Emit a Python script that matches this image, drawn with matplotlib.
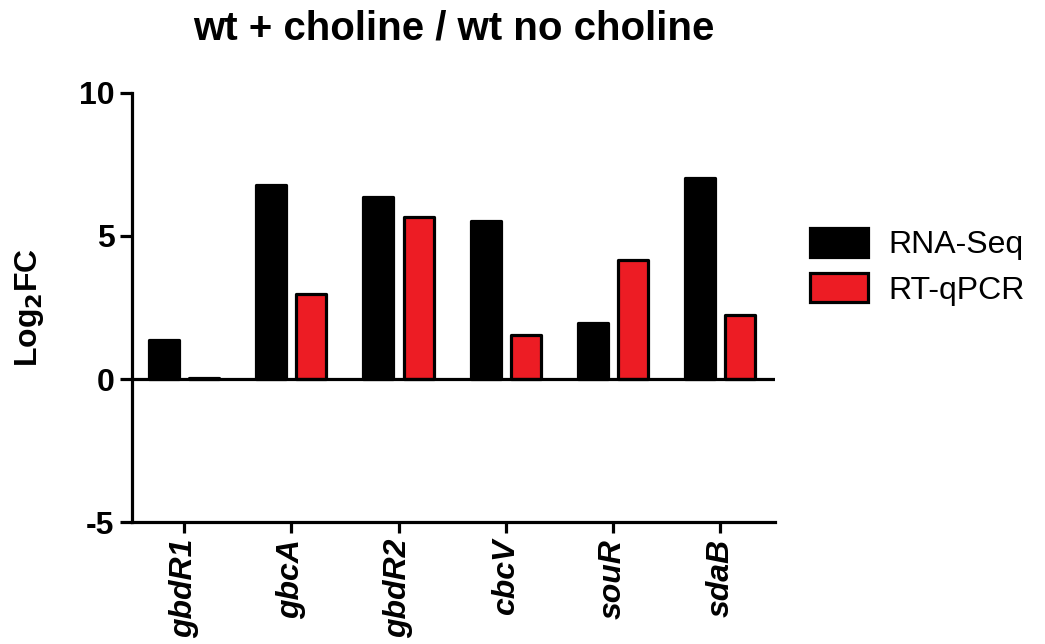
import matplotlib.pyplot as plt
import numpy as np

plt.rcParams['font.family'] = ['Liberation Sans', 'DejaVu Sans']
plt.rcParams['axes.unicode_minus'] = False

genes = ["gbdR1", "gbcA", "gbdR2", "cbcV", "souR", "sdaB"]
rna_seq = [1.36, 6.78, 6.36, 5.52, 1.96, 7.03]
rt_qpcr = [0.05, 2.97, 5.66, 1.54, 4.16, 2.24]

x = np.arange(len(genes))
w = 0.28
off = 0.187
lw = 2.3

fig = plt.figure(figsize=(10.45, 6.44), dpi=100)
ax = fig.add_axes([0.1263, 0.189, 0.6153, 0.667])

ax.bar(x - off, rna_seq, w, color="black", edgecolor="black", linewidth=lw,
       joinstyle="round", label="RNA-Seq", zorder=3)
ax.bar(x + off, rt_qpcr, w, color="#ed1c24", edgecolor="black", linewidth=lw,
       joinstyle="round", label="RT-qPCR", zorder=3)

# zero line across the plot
ax.axhline(0, color="black", linewidth=lw, zorder=4)

ax.set_xlim(-0.485, 5.51)
ax.set_ylim(-5, 10)
ax.set_yticks([-5, 0, 5, 10])
ax.set_xticks(x)
ax.set_xticklabels(genes, rotation=90, fontstyle="italic", fontweight="bold", fontsize=23)
for lab in ax.get_yticklabels():
    lab.set_fontweight("bold")
    lab.set_fontsize(23)

for s in ["top", "right"]:
    ax.spines[s].set_visible(False)
for s in ["left", "bottom"]:
    ax.spines[s].set_linewidth(lw)
ax.tick_params(axis="y", width=lw, length=8.5, pad=4)
ax.tick_params(axis="x", width=lw, length=8, pad=4)

ax.set_ylabel("Log$_\\mathbf{2}$FC", fontsize=23, fontweight="bold", labelpad=24)
fig.text(0.434, 1 - 28 / 644, "wt + choline / wt no choline", fontsize=29,
         fontweight="bold", ha="center", va="center")

leg = fig.legend(loc="center left", bbox_to_anchor=(0.775, 0.586), frameon=False,
                 fontsize=23, handlelength=1.82, handleheight=1.03, labelspacing=0.4,
                 handletextpad=0.65, borderpad=0, borderaxespad=0)
for h in leg.legend_handles:
    h.set_linewidth(lw)

fig.savefig("out.png", dpi=100)
